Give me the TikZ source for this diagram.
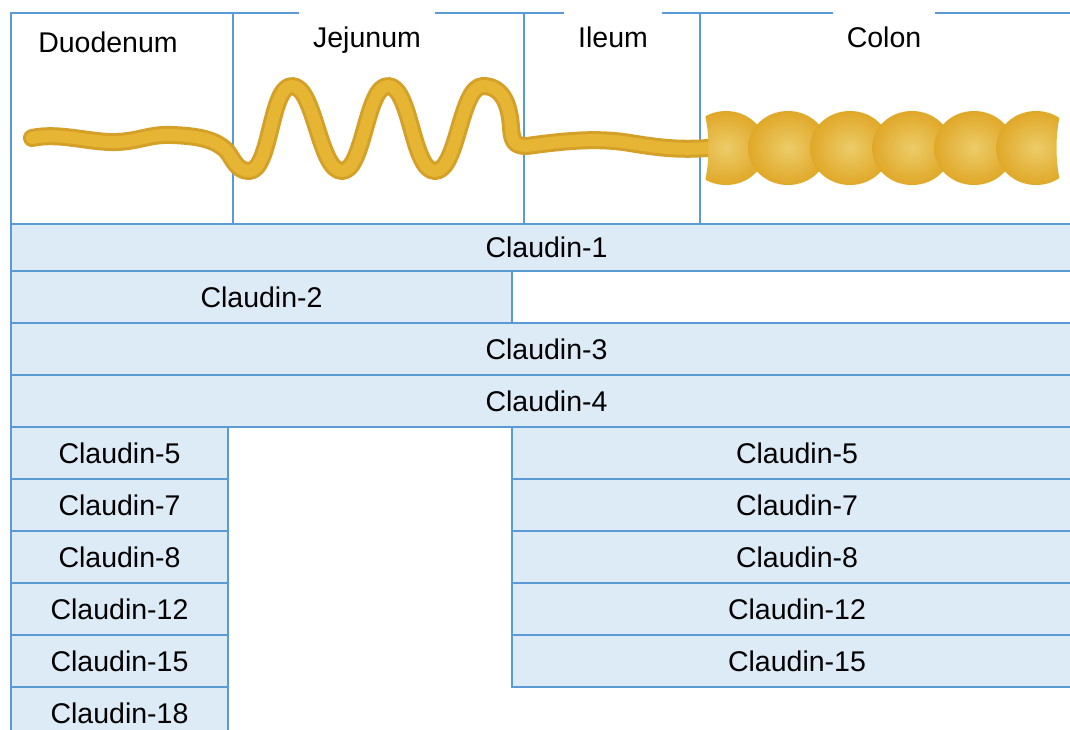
\documentclass[tikz,border=0pt]{standalone}
\usepackage{fontspec}
\setmainfont{Liberation Sans}
\definecolor{lineblue}{RGB}{91,155,213}
\definecolor{cellblue}{RGB}{221,235,247}
\definecolor{tubedark}{RGB}{212,160,40}
\definecolor{tubelight}{RGB}{230,181,52}
\definecolor{balllight}{RGB}{236,204,105}
\definecolor{balldark}{RGB}{224,168,40}
\begin{document}
\begin{tikzpicture}[x=1pt,y=-1pt,
  lbl/.style={font=\fontsize{28.5}{34}\selectfont},
  cell/.style={draw=lineblue, line width=2pt, fill=cellblue, inner sep=0pt,
               anchor=north west, lbl},
  segbox/.style={cell, fill=white},
  toplabel/.style={lbl, anchor=base, inner xsep=14pt, inner ysep=0pt,
                   text height=37pt, text depth=6pt},
  tubeouter/.style={draw=tubedark, line width=18pt, line cap=round, line join=round},
  tubeinner/.style={draw=tubelight, line width=12pt, line cap=round, line join=round},
  colonball/.style={inner color=balllight, outer color=balldark},
]
\useasboundingbox (0,0) rectangle (1070,729);
\clip (0,0) rectangle (1070,729);
\fill[white] (0,0) rectangle (1070,729);

% intestinal segments
\node[segbox, minimum width=222pt, minimum height=211pt] (duo) at (10,12) {};
\node[segbox, minimum width=291pt, minimum height=211pt] (jej) at (232,12) {};
\node[segbox, minimum width=176pt, minimum height=211pt] (ile) at (523,12) {};
\node[segbox, minimum width=382pt, minimum height=211pt] (col) at (699,12) {};

% small intestine tube: duodenum, jejunum loops, ileum
\def\gut{(32,138) .. controls (60,132) and (90,143) .. (117,142)
  .. controls (140,141) and (150,134) .. (172,135)
  .. controls (200,136) and (215,140) .. (226,150)
  .. controls (233,158) and (236,171) .. (249,171)
  .. controls (271,171) and (270,86) .. (292,86)
  .. controls (315,86) and (319,171) .. (342,171)
  .. controls (364,171) and (366,86) .. (388,86)
  .. controls (411,86) and (412,171) .. (435,171)
  .. controls (458,171) and (460,86) .. (483,86)
  .. controls (504,86) and (510,108) .. (511,128)
  .. controls (512,142) and (515,146) .. (527,146)
  .. controls (570,140) and (600,138) .. (630,143)
  .. controls (660,148) and (680,150) .. (708,148)}
\draw[tubeouter] \gut;
\draw[tubeinner] \gut;

% colon haustra
\begin{scope}
  \clip (701,100) -- (1064,100) .. controls (1054,130) and (1054,166) .. (1064,196)
        -- (701,196) .. controls (711,166) and (711,130) .. (701,100) -- cycle;
  \foreach \cx in {726,788,850,912,974,1036}
    \shade[colonball] (\cx,148) ellipse [x radius=40, y radius=37];
\end{scope}

% segment names
\node[lbl, anchor=base] (tduo) at (108,52) {Duodenum};
\node[toplabel, fill=white] (tjej) at (367,47) {Jejunum};
\node[toplabel, fill=white] (tile) at (613,47) {Ileum};
\node[toplabel, fill=white] (tcol) at (884,47) {Colon};

% claudin rows spanning the gut
\node[cell, minimum width=1071pt, minimum height=47pt] (c1) at (10,223) {Claudin-1};
\node[cell, minimum width=501pt, minimum height=52pt] (c2) at (10,270) {Claudin-2};
\node[cell, minimum width=1071pt, minimum height=52pt] (c3) at (10,322) {Claudin-3};
\node[cell, minimum width=1071pt, minimum height=52pt] (c4) at (10,374) {Claudin-4};

% duodenum-only column
\node[cell, minimum width=217pt, minimum height=52pt] (l5)  at (10,426) {Claudin-5};
\node[cell, minimum width=217pt, minimum height=52pt] (l7)  at (10,478) {Claudin-7};
\node[cell, minimum width=217pt, minimum height=52pt] (l8)  at (10,530) {Claudin-8};
\node[cell, minimum width=217pt, minimum height=52pt] (l12) at (10,582) {Claudin-12};
\node[cell, minimum width=217pt, minimum height=52pt] (l15) at (10,634) {Claudin-15};
\node[cell, minimum width=217pt, minimum height=52pt] (l18) at (10,686) {Claudin-18};

% ileum and colon column
\node[cell, minimum width=570pt, minimum height=52pt] (r5)  at (511,426) {Claudin-5};
\node[cell, minimum width=570pt, minimum height=52pt] (r7)  at (511,478) {Claudin-7};
\node[cell, minimum width=570pt, minimum height=52pt] (r8)  at (511,530) {Claudin-8};
\node[cell, minimum width=570pt, minimum height=52pt] (r12) at (511,582) {Claudin-12};
\node[cell, minimum width=570pt, minimum height=52pt] (r15) at (511,634) {Claudin-15};
\end{tikzpicture}
\end{document}
